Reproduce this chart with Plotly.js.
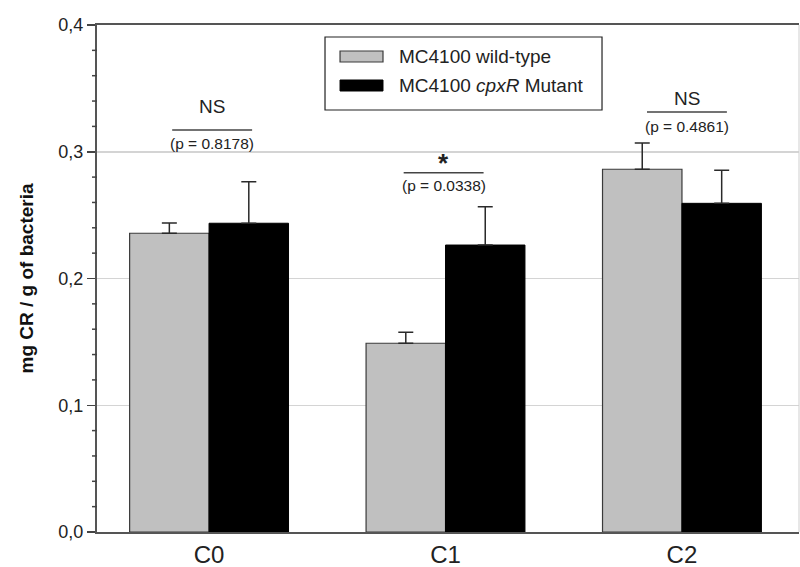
<!DOCTYPE html>
<html>
<head>
<meta charset="utf-8">
<script src="https://cdn.plot.ly/plotly-3.0.1.min.js"></script>
<style>html,body{margin:0;padding:0;background:#fff}#chart{width:800px;height:567px}</style>
</head>
<body>
<div id="chart"></div>
<script>
// Data
const categories = ["C0", "C1", "C2"];
const wildType = [0.2357, 0.1489, 0.2862];
const wildTypeErr = [0.0080, 0.0087, 0.0207];
const mutant = [0.2436, 0.2264, 0.2593];
const mutantErr = [0.0328, 0.0302, 0.0261];
const seriesNames = ["MC4100 wild-type", "MC4100 <i>cpxR</i> Mutant"];
const sigLabels = ["NS", "<b>*</b>", "NS"];
const pLabels = ["(p = 0.8178)", "(p = 0.0338)", "(p = 0.4861)"];
const sigY = [0.3355, 0.2915, 0.3424];
const lineY = [0.3172, 0.2835, 0.3314];
const pY = [0.3069, 0.2730, 0.3203];
const lineCenterOffset = [0.013, -0.008, 0.021];
const minorTickVals = [0.02, 0.04, 0.06, 0.08, 0.12, 0.14, 0.16, 0.18, 0.22, 0.24, 0.26, 0.28, 0.32, 0.34, 0.36, 0.38];

const xIdx = categories.map((c, i) => i);
const FONT = "Liberation Sans, Arial, sans-serif";
const PLOT_W = 800 - 97 - 1;

const traces = [
  {
    type: "bar", x: xIdx, y: wildType, name: seriesNames[0],
    marker: {color: "#c0c0c0", line: {color: "#3a3a3a", width: 1.2}},
    error_y: {type: "data", symmetric: false, array: wildTypeErr, arrayminus: wildTypeErr.map(() => 0),
      color: "#2a2a2a", thickness: 1.5, width: 7.5},
    showlegend: false
  },
  {
    type: "bar", x: xIdx, y: mutant, name: seriesNames[1],
    marker: {color: "#000000", line: {color: "#000000", width: 1}},
    error_y: {type: "data", symmetric: false, array: mutantErr, arrayminus: mutantErr.map(() => 0),
      color: "#2a2a2a", thickness: 1.5, width: 7.5},
    showlegend: false
  }
];

const annotations = [];
const shapes = [];
categories.forEach((c, i) => {
  const cx = i + lineCenterOffset[i];
  const isStar = sigLabels[i].indexOf("*") >= 0;
  annotations.push({x: cx, y: sigY[i], xref: "x", yref: "y", text: sigLabels[i], showarrow: false,
    font: {family: FONT, size: isStar ? 26 : 19, color: "#222"},
    yanchor: "middle"});
  annotations.push({x: cx, y: pY[i], xref: "x", yref: "y", text: pLabels[i], showarrow: false,
    font: {family: FONT, size: 15.5, color: "#222"}, yanchor: "middle"});
  shapes.push({type: "line", xref: "x", yref: "y", x0: cx - 0.169, x1: cx + 0.169, y0: lineY[i], y1: lineY[i],
    line: {color: "#444", width: 1.5}});
});

// minor ticks on the y axis (outside, left)
minorTickVals.forEach(v => {
  shapes.push({type: "line", xref: "paper", yref: "y", x0: -5 / PLOT_W, x1: 0, y0: v, y1: v,
    line: {color: "#444", width: 1.5}});
});

// Legend box drawn manually
shapes.push({type: "rect", xref: "paper", yref: "paper", x0: 0.3248, x1: 0.7194, y0: 0.8323, y1: 0.9763,
  line: {color: "#222", width: 1.2}, fillcolor: "#ffffff"});
shapes.push({type: "rect", xref: "paper", yref: "paper", x0: 0.3462, x1: 0.4074, y0: 0.9270, y1: 0.9487,
  line: {color: "#3a3a3a", width: 1.2}, fillcolor: "#c0c0c0"});
shapes.push({type: "rect", xref: "paper", yref: "paper", x0: 0.3462, x1: 0.4074, y0: 0.8698, y1: 0.8915,
  line: {color: "#000", width: 1}, fillcolor: "#000"});
annotations.push({xref: "paper", yref: "paper", x: 0.4274, y: 0.9379, xanchor: "left", yanchor: "middle",
  text: seriesNames[0], showarrow: false, font: {family: FONT, size: 19, color: "#222"}});
annotations.push({xref: "paper", yref: "paper", x: 0.4274, y: 0.8807, xanchor: "left", yanchor: "middle",
  text: seriesNames[1], showarrow: false, font: {family: FONT, size: 19, color: "#222"}});
// right border (faint)
shapes.push({type: "line", xref: "paper", yref: "paper", x0: 1, x1: 1, y0: 0, y1: 1, line: {color: "#cfcfcf", width: 1}});

const layout = {
  width: 800, height: 567,
  margin: {l: 97, r: 1, t: 25, b: 35},
  paper_bgcolor: "#fff", plot_bgcolor: "#fff",
  separators: ", ",
  barmode: "group", bargap: 0.328, bargroupgap: 0,
  font: {family: FONT, color: "#222"},
  xaxis: {
    range: [-0.474, 2.495], tickvals: xIdx, ticktext: categories,
    showline: true, linecolor: "#555", linewidth: 2, mirror: true,
    ticks: "", showgrid: false, zeroline: false,
    tickfont: {size: 24, color: "#222"}
  },
  yaxis: {
    range: [0, 0.4], tickmode: "linear", tick0: 0, dtick: 0.1, tickformat: ".1f",
    showline: true, linecolor: "#555", linewidth: 2,
    ticks: "outside", ticklen: 8, tickwidth: 1.5, tickcolor: "#444",
    showgrid: true, gridcolor: "#d4d4d4", gridwidth: 1.5, zeroline: false,
    tickfont: {size: 18, color: "#222"},
    title: {text: "<b>mg CR / g of bacteria</b>", font: {size: 19, color: "#111"}, standoff: 20}
  },
  annotations: annotations,
  shapes: shapes
};

Plotly.newPlot("chart", traces, layout, {displayModeBar: false, staticPlot: true});
</script>
</body>
</html>
